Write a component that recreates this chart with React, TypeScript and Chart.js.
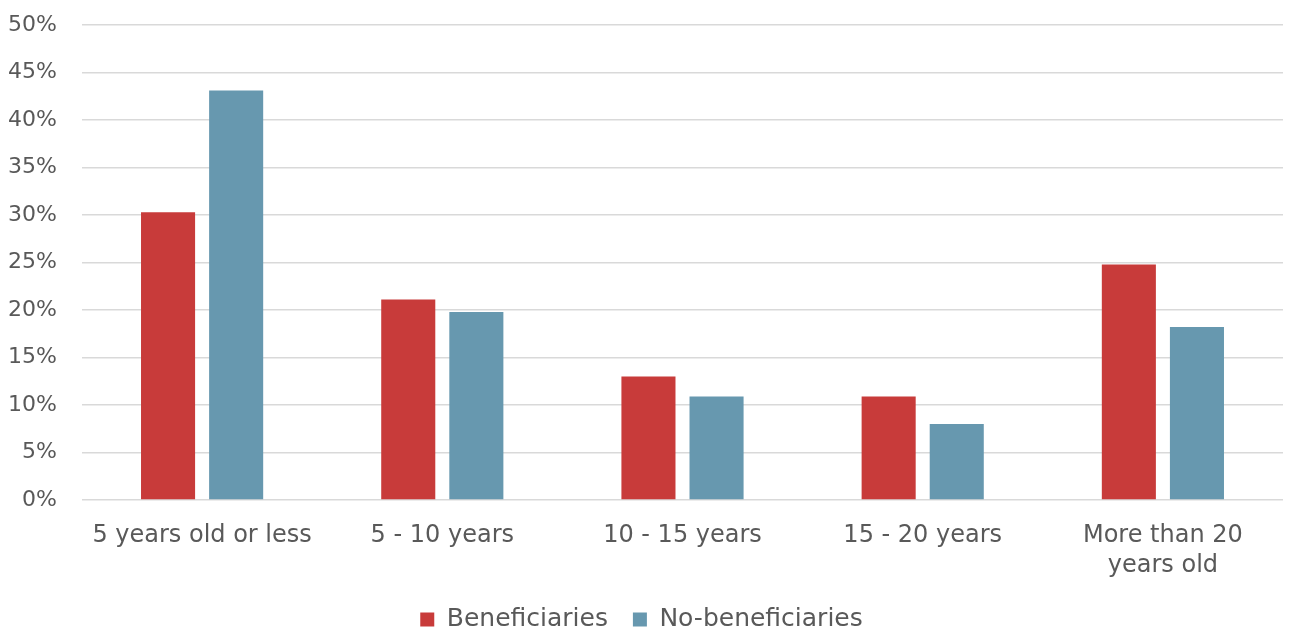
import React, { useEffect, useRef } from "react";
import { Chart, registerables } from "chart.js";

Chart.register(...registerables);

const categories: (string | string[])[] = [
  "5 years old or less",
  "5 - 10 years",
  "10 - 15 years",
  "15 - 20 years",
  ["More than 20", "years old"],
];
const beneficiaries = [30.3, 21.1, 13.0, 10.9, 24.8];
const noBeneficiaries = [43.1, 19.8, 10.9, 8.0, 18.2];
const yTicks = [0, 5, 10, 15, 20, 25, 30, 35, 40, 45, 50];

const FONT = "'DejaVu Sans', sans-serif";
const TEXT = "#595959";
const W = 1293;
const H = 642;

export default function App() {
  const ref = useRef<HTMLCanvasElement | null>(null);
  useEffect(() => {
    document.body.style.margin = "0";
    document.body.style.overflow = "hidden";
    document.documentElement.style.overflow = "hidden";
    const chart = new Chart(ref.current!, {
      type: "bar",
      data: {
        labels: categories,
        datasets: [
          {
            label: "Beneficiaries",
            data: beneficiaries,
            backgroundColor: "#C83B3A",
            categoryPercentage: 0.567,
            barPercentage: 0.794,
          },
          {
            label: "No-beneficiaries",
            data: noBeneficiaries,
            backgroundColor: "#6798AF",
            categoryPercentage: 0.567,
            barPercentage: 0.794,
          },
        ],
      },
      options: {
        animation: false,
        responsive: false,
        maintainAspectRatio: false,
        layout: { padding: { top: 25, right: 10, left: 0, bottom: 0 } },
        plugins: {
          tooltip: { enabled: false },
          legend: {
            position: "bottom",
            labels: {
              boxWidth: 14,
              boxHeight: 14,
              padding: 25,
              color: TEXT,
              font: { family: FONT, size: 25 },
            },
          },
        },
        scales: {
          x: {
            grid: { display: false, drawTicks: false },
            border: { display: false },
            ticks: {
              color: TEXT,
              font: { family: FONT, size: 24, lineHeight: 1.25 },
              padding: 21,
              maxRotation: 0,
              autoSkip: false,
            },
            afterFit: (s: any) => {
              s.height = 82;
              s.paddingLeft = 0;
              s.paddingRight = 0;
            },
          },
          y: {
            min: 0,
            max: 50,
            afterBuildTicks: (s: any) => {
              s.ticks = yTicks.map((v) => ({ value: v }));
            },
            grid: { color: "#D9D9D9", lineWidth: 1.5, drawTicks: false },
            border: { display: false },
            ticks: {
              color: TEXT,
              font: { family: FONT, size: 22 },
              padding: 25,
              callback: (v: any) => v + "%",
            },
            afterFit: (s: any) => {
              s.width = 82;
              s.paddingTop = 0;
              s.paddingBottom = 0;
            },
          },
        },
      },
    });
    return () => chart.destroy();
  }, []);
  return (
    <div style={{ width: W, height: 628, overflow: "hidden" }}>
      <canvas ref={ref} width={W} height={H} style={{ display: "block" }} />
    </div>
  );
}
